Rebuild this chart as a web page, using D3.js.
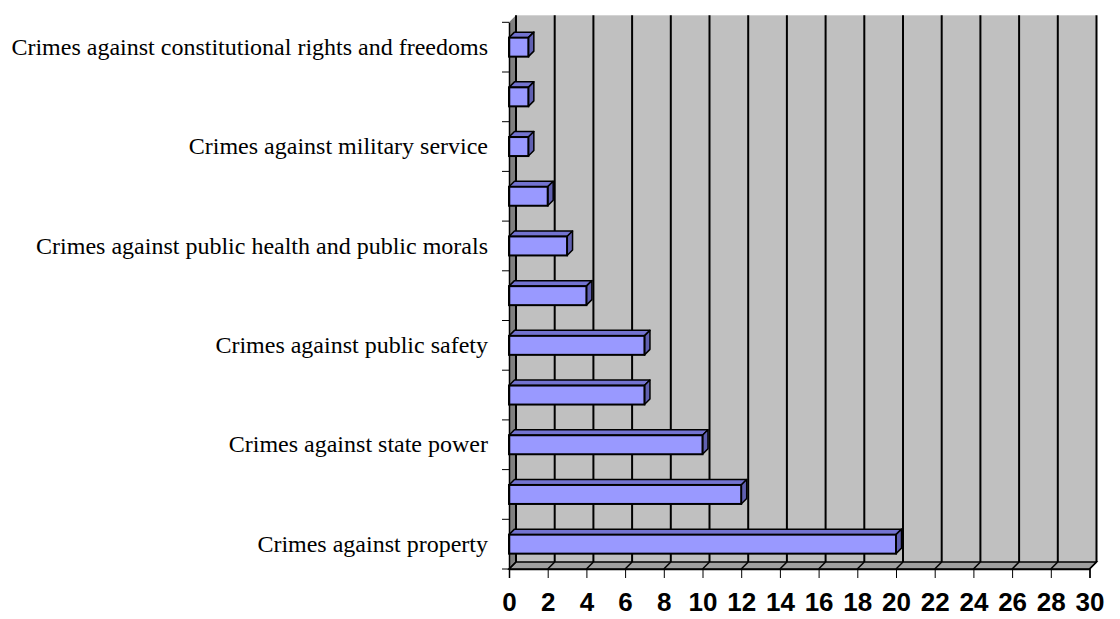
<!DOCTYPE html>
<html>
<head>
<meta charset="utf-8">
<script src="https://cdn.jsdelivr.net/npm/d3@7"></script>
<style>
  body { margin: 0; background: #fff; }
</style>
</head>
<body>
<div id="chart"></div>
<script>
// categories from bottom to top ("" = label not shown on the axis)
var categories = [
  "Crimes against property",
  "",
  "Crimes against state power",
  "",
  "Crimes against public safety",
  "",
  "Crimes against public health and public morals",
  "",
  "Crimes against military service",
  "",
  "Crimes against constitutional rights and freedoms"
];
var values = [20, 12, 10, 7, 7, 4, 3, 2, 1, 1, 1];
var xTicks = [0, 2, 4, 6, 8, 10, 12, 14, 16, 18, 20, 22, 24, 26, 28, 30];

var width = 1120, height = 619;
var depth = 7;      // depth of the walls
var barDepth = 5.5; // depth of a bar
var barH = 19;

var svg = d3.select("#chart")
  .append("svg")
  .attr("width", width)
  .attr("height", height);

var x = d3.scaleLinear()
  .domain([0, 30])
  .range([509, 1089.5]);

var y = d3.scaleBand()
  .domain(d3.range(categories.length))
  .range([569, 22.3]);

var yTop = y.range()[1], yBottom = y.range()[0];

// back wall
svg.append("rect")
  .attr("x", x(0) + depth)
  .attr("y", yTop - depth)
  .attr("width", x(30) - x(0))
  .attr("height", yBottom - yTop)
  .attr("fill", "#c0c0c0");

// left wall
svg.append("path")
  .attr("d", d3.line()([
    [x(0), yTop], [x(0) + depth, yTop - depth],
    [x(0) + depth, yBottom - depth], [x(0), yBottom]
  ]) + "Z")
  .attr("fill", "#808080");

// floor
svg.append("path")
  .attr("d", d3.line()([
    [x(0), yBottom], [x(0) + depth, yBottom - depth],
    [x(30) + depth, yBottom - depth], [x(30), yBottom]
  ]) + "Z")
  .attr("fill", "#a0a0a0")
  .attr("stroke", "#000")
  .attr("stroke-width", 1.5);

// grid lines on back wall and floor
svg.append("g")
  .selectAll("line")
  .data(xTicks)
  .join("line")
  .attr("x1", function(d) { return x(d) + depth; })
  .attr("x2", function(d) { return x(d) + depth; })
  .attr("y1", yTop - depth)
  .attr("y2", yBottom - depth)
  .attr("stroke", "#000")
  .attr("stroke-width", 2);

svg.append("g")
  .selectAll("line")
  .data(xTicks)
  .join("line")
  .attr("x1", function(d) { return x(d); })
  .attr("x2", function(d) { return x(d) + depth; })
  .attr("y1", yBottom)
  .attr("y2", yBottom - depth)
  .attr("stroke", "#000")
  .attr("stroke-width", 1.5);

// bars
var bars = svg.append("g")
  .selectAll("g")
  .data(values)
  .join("g");

function cy(i) { return y(i) + y.bandwidth() / 2; }

bars.append("path")
  .attr("d", function(d, i) {
    var t = cy(i) - barH / 2;
    return d3.line()([[x(0), t], [x(d), t], [x(d) + barDepth, t - barDepth], [x(0) + barDepth, t - barDepth]]) + "Z";
  })
  .attr("fill", "#7373d0")
  .attr("stroke", "#000")
  .attr("stroke-width", 1.5)
  .attr("stroke-linejoin", "round");

bars.append("path")
  .attr("d", function(d, i) {
    var t = cy(i) - barH / 2;
    return d3.line()([[x(d), t], [x(d) + barDepth, t - barDepth], [x(d) + barDepth, t + barH - barDepth], [x(d), t + barH]]) + "Z";
  })
  .attr("fill", "#6060b0")
  .attr("stroke", "#000")
  .attr("stroke-width", 1.5)
  .attr("stroke-linejoin", "round");

bars.append("rect")
  .attr("x", x(0))
  .attr("y", function(d, i) { return cy(i) - barH / 2; })
  .attr("width", function(d) { return x(d) - x(0); })
  .attr("height", barH)
  .attr("fill", "#9999ff")
  .attr("stroke", "#000")
  .attr("stroke-width", 2);

// X axis (bottom)
var xAxis = svg.append("g")
  .attr("transform", "translate(0," + yBottom + ")")
  .call(d3.axisBottom(x).tickValues(xTicks).tickSize(9).tickPadding(15));
xAxis.select(".domain").attr("stroke-width", 1.5);
xAxis.selectAll("text")
  .attr("fill", "#000")
  .style("font-family", "'Liberation Sans', Arial, sans-serif")
  .style("font-size", "26px")
  .style("font-weight", "bold");

// Y axis (left)
var yAxis = svg.append("g")
  .attr("transform", "translate(" + x(0) + ",0)")
  .call(d3.axisLeft(y).tickSize(0).tickPadding(21)
    .tickFormat(function(i) { return categories[i]; }));
yAxis.select(".domain").attr("stroke-width", 1.5);
yAxis.selectAll("text")
  .attr("fill", "#000")
  .style("font-family", "'Liberation Serif', 'Times New Roman', serif")
  .style("font-size", "24px");

// category tick marks between bands
yAxis.append("g")
  .selectAll("line")
  .data(d3.range(categories.length + 1))
  .join("line")
  .attr("x1", -7)
  .attr("x2", 0)
  .attr("y1", function(i) { return yBottom - i * y.step(); })
  .attr("y2", function(i) { return yBottom - i * y.step(); })
  .attr("stroke", "#000");
</script>
</body>
</html>
